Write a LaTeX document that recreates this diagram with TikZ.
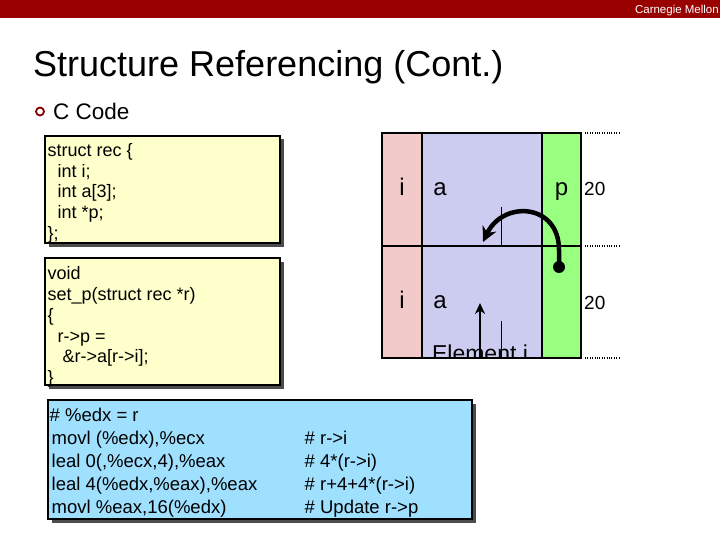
\documentclass[tikz,border=0pt]{standalone}
\usepackage{fontspec}
\setmainfont{Liberation Sans}
\usetikzlibrary{arrows.meta,shadows}
\definecolor{cmured}{HTML}{990000}
\definecolor{bulletred}{HTML}{800000}
\definecolor{codeyellow}{HTML}{FFFFCC}
\definecolor{asmblue}{HTML}{A0E0FF}
\definecolor{fieldi}{HTML}{F2CACA}
\definecolor{fielda}{HTML}{CCCCF0}
\definecolor{fieldp}{HTML}{99FF80}

\begin{document}
\begin{tikzpicture}[x=1pt,y=-1pt,
    codebox/.style={rectangle, draw, line width=1.2pt, fill=codeyellow, anchor=north west, inner sep=0pt, outer sep=0pt,
        general shadow={fill=black!70, shadow xshift=3.5pt, shadow yshift=-3.5pt}},
    code/.style={anchor=north west, inner sep=0pt, align=left, font=\fontsize{18}{20.8}\selectfont},
    flabel/.style={inner sep=0pt, text height=17pt, text depth=5pt, font=\fontsize{24}{24}\selectfont},
    field/.style={flabel, rectangle, draw, line width=1.5pt, anchor=north west, outer sep=0pt},
    offset/.style={anchor=base west, inner sep=0pt, font=\fontsize{19}{19}\selectfont},
    guide/.style={line width=1.3pt, dash pattern=on 1pt off 1.4pt},
    ptr/.style={line width=4.5pt, -{Stealth[length=15pt,width=15pt]}}
]
\useasboundingbox (0,0) rectangle (720,540);
\fill[cmured] (0,0) rectangle (720,18);
\node[anchor=base east, inner sep=0pt, text=white, font=\fontsize{11.5}{11.5}\selectfont] (brand) at (719,13.5) {Carnegie Mellon};
\node[anchor=base west, inner sep=0pt, font=\fontsize{36}{36}\selectfont] (title) at (33,77) {Structure Referencing (Cont.)};
\node[circle, draw=bulletred, line width=1.8pt, inner sep=0pt, minimum size=8pt] (bullet) at (40,111.5) {};
\node[anchor=base west, inner sep=0pt, font=\fontsize{22.5}{22.5}\selectfont] (ccode) at (53,120) {C Code};

\node[codebox, minimum width=235pt, minimum height=107pt] (recbox) at (45,136) {};
\node[code] (rectext) at (47.5,143) {struct rec \{\\\hspace*{10pt}int i;\\\hspace*{10pt}int a[3];\\\hspace*{10pt}int *p;\\\};};
\node[codebox, minimum width=235pt, minimum height=127pt] (funcbox) at (45,258) {};
\node[code] (functext) at (47.5,266.5) {void\\set\_p(struct rec *r)\\\{\\\hspace*{10pt}r->p =\\\hspace*{15pt}\&r->a[r->i];\\\}};
\node[codebox, fill=asmblue, minimum width=424pt, minimum height=119pt] (asmbox) at (48,400) {};
\node[code, font=\fontsize{18.5}{23}\selectfont] (asmtext) at (49.5,407.5) {\# \%edx = r\\\hspace*{2pt}movl (\%edx),\%ecx\\\hspace*{2pt}leal 0(,\%ecx,4),\%eax\\\hspace*{2pt}leal 4(\%edx,\%eax),\%eax\\\hspace*{2pt}movl \%eax,16(\%edx)};
\node[code, font=\fontsize{18.5}{23}\selectfont] (asmnote) at (304.5,430.5) {\# r->i\\\# 4*(r->i)\\\# r+4+4*(r->i)\\\# Update r->p};

\node[field, fill=fieldi, minimum width=40pt, minimum height=113pt] (i1) at (382,133) {i};
\node[field, fill=fielda, minimum width=120pt, minimum height=113pt] (a1) at (422,133) {};
\node[field, fill=fieldp, minimum width=39pt, minimum height=113pt] (p1) at (542,133) {p};
\node[field, fill=fieldi, minimum width=40pt, minimum height=112pt] (i2) at (382,246) {i};
\node[field, fill=fielda, minimum width=120pt, minimum height=112pt] (a2) at (422,246) {};
\node[field, fill=fieldp, minimum width=39pt, minimum height=112pt] (p2) at (542,246) {};
\node[flabel] (alab1) at (440,189.5) {a};
\node[flabel] (alab2) at (440,302) {a};
\node[offset] (off1) at (584,196) {20};
\node[offset] (off2) at (584,309) {20};
\draw[guide] ([xshift=4pt]p1.north east) -- ++(35,0);
\draw[guide] ([xshift=4pt]p1.south east) -- ++(35,0);
\draw[guide] ([xshift=4pt]p2.south east) -- ++(35,0);
\draw[line width=1pt] (501,207) -- (501,246);
\draw[line width=1pt] (501,321) -- (501,358);

\begin{scope}
\clip (a2.north west) rectangle (a2.south east);
\node[anchor=base, inner sep=0pt, font=\fontsize{23}{23}\selectfont] (elem) at (480,361) {Element i};
\end{scope}
\draw[line width=1.5pt] (a2.south west) -- (a2.south east);

\node[circle, fill, inner sep=0pt, minimum size=12pt] (pdot) at (559,267) {};
\coordinate (aelem) at (483,242);
\draw[ptr] (pdot.center) -- (559,250) .. controls (559,203) and (503,200) .. (aelem);
\coordinate (ebase) at (480,358);
\coordinate (etip) at (480,303);
\draw[line width=2.8pt, -{Stealth[length=11pt,width=10pt]}] (ebase) -- (etip);
\end{tikzpicture}
\end{document}
